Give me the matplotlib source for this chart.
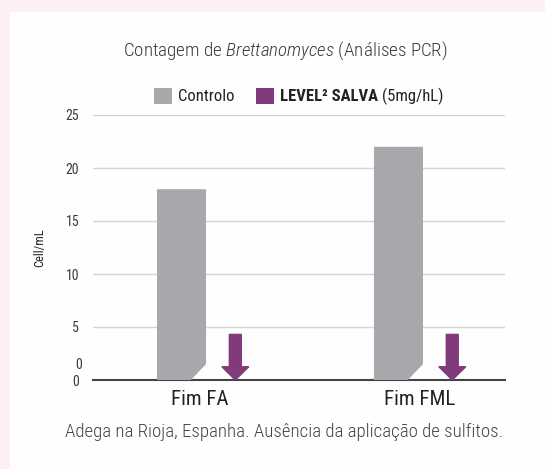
import matplotlib
matplotlib.use("Agg")
import matplotlib.pyplot as plt
from matplotlib.patches import Polygon, Rectangle

# Data
groups = ["Fim FA", "Fim FML"]
controlo = [18, 22]
salva_arrow_top = [4.3, 4.3]
salva_value = [0, 0]
yticks = [0, 5, 10, 15, 20, 25]

plt.rcParams['font.family'] = ['Roboto Condensed', 'DejaVu Sans']
plt.rcParams['mathtext.fontset'] = 'custom'
plt.rcParams['mathtext.rm'] = 'Roboto Condensed:light'
plt.rcParams['mathtext.it'] = 'Roboto Condensed:italic:light'

grey = '#a7a8ac'
purple = '#813a7c'
text_c = '#3a3a3a'

fig = plt.figure(figsize=(5.45, 4.69), dpi=100, facecolor='#fcf0f2')
# white card behind everything
fig.patches.append(Rectangle((10 / 545, 0), 1, 1 - 12 / 469, transform=fig.transFigure,
                             facecolor='#fefefe', edgecolor='none', zorder=-5))

ax = fig.add_axes([93 / 545, 1 - 380 / 469, 412 / 545, 265 / 469])
ax.set_facecolor('none')
ax.set_xlim(-0.532, 1.367)
ax.set_ylim(0, 25)

bar_w = 0.226
bar_off = -0.124
arrow_off = 0.124
cut_x = 0.07
cut_y = 1.5

for i, v in enumerate(controlo):
    x0 = i + bar_off - bar_w / 2
    x1 = x0 + bar_w
    ax.add_patch(Polygon([(x0, 0), (x0, v), (x1, v), (x1, cut_y), (x1 - cut_x, 0)],
                         closed=True, facecolor=grey, edgecolor='none', zorder=3))

for i, top in enumerate(salva_arrow_top):
    ax.arrow(i + arrow_off, top, 0, salva_value[i] - top, width=0.055, head_width=0.124,
             head_length=1.25, length_includes_head=True, color=purple, zorder=3)

ax.set_yticks(yticks)
ax.set_yticklabels([str(t) for t in yticks], fontsize=10, color=text_c)
ax.tick_params(axis='y', length=0, pad=10)
ax.text(-0.585, 1.4, '0', fontsize=10, color=text_c, ha='right', va='center')
ax.grid(axis='y', color='#d4d4d4', linewidth=1)
ax.set_axisbelow(True)
for s in ['top', 'right', 'left']:
    ax.spines[s].set_visible(False)
ax.spines['bottom'].set_color('#444444')
ax.spines['bottom'].set_linewidth(1.5)

ax.set_xticks([-0.04, 0.975])
ax.set_xticklabels(groups, fontsize=15, color='#222222')
ax.tick_params(axis='x', length=0, pad=7)

ax.set_ylabel('Cell/mL', fontsize=9, color='#222222', labelpad=14)

# Title
fig.text(285 / 545, 1 - 51 / 469, 'Contagem de $\\it{Brettanomyces}$ (Análises PCR)',
         ha='center', va='center', fontsize=13.7, color=text_c, fontweight='light')

# Legend
ly = 1 - 96 / 469
fig.patches.append(Rectangle((154 / 545, 1 - 104 / 469), 18 / 545, 16 / 469,
                             transform=fig.transFigure, facecolor=grey, edgecolor='none'))
fig.text(178 / 545, ly, 'Controlo', ha='left', va='center', fontsize=12, color='#222222')
fig.patches.append(Rectangle((256 / 545, 1 - 104 / 469), 18 / 545, 16 / 469,
                             transform=fig.transFigure, facecolor=purple, edgecolor='none'))
bold = fig.text(280 / 545, ly, 'LEVEL² SALVA', ha='left', va='center', fontsize=12,
                fontweight='bold', color='#222222')
ax.annotate('(5mg/hL)', xy=(1, 0.5), xycoords=bold, xytext=(3, 0),
            textcoords='offset points', ha='left', va='center', fontsize=12,
            color='#222222', annotation_clip=False)

# Footer
fig.text(284 / 545, 1 - 432 / 469, 'Adega na Rioja, Espanha. Ausência da aplicação de sulfitos.',
         ha='center', va='center', fontsize=13.6, color='#444444', fontweight='light')

fig.savefig('out.png', dpi=100, facecolor=fig.get_facecolor())
